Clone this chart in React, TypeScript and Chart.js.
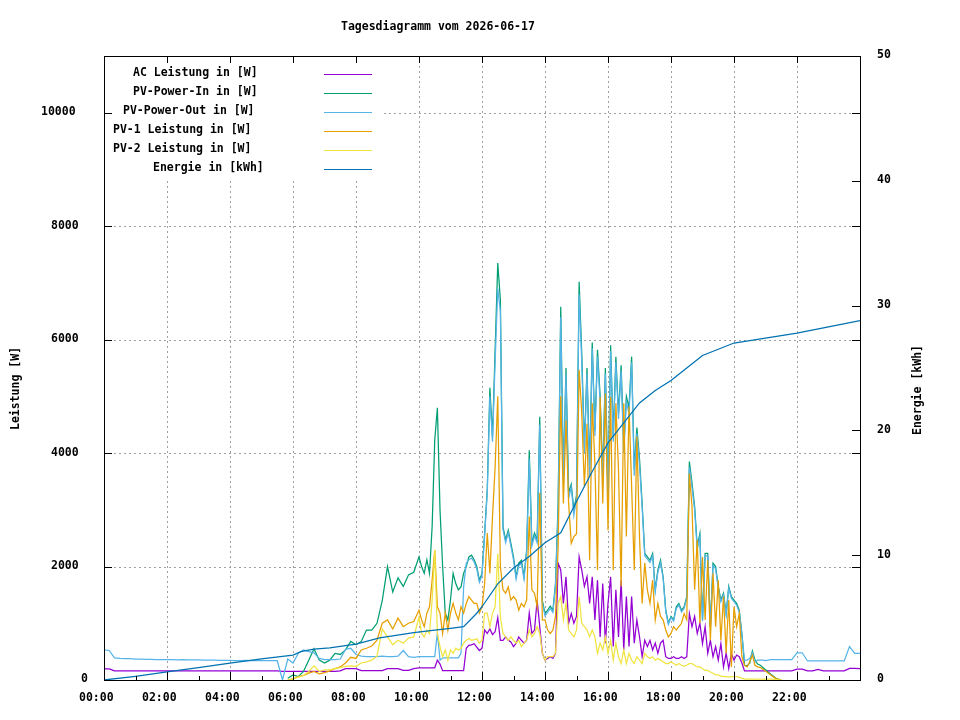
import React, { useEffect, useRef } from "react";
import { Chart, registerables } from "chart.js";

Chart.register(...registerables);

const TITLE = "Tagesdiagramm vom 2026-06-17";
const Y_TITLE = "Leistung [W]";
const Y2_TITLE = "Energie [kWh]";
const LABELS = [
  "AC Leistung in [W]",
  "PV-Power-In in [W]",
  "PV-Power-Out in [W]",
  "PV-1 Leistung in [W]",
  "PV-2 Leistung in [W]",
  "Energie in [kWh]",
];
const COLORS = ["#9400d3", "#009e73", "#56b4e9", "#e69f00", "#f0e442", "#0072b2"];
const Y_TICKS = [0, 2000, 4000, 6000, 8000, 10000];
const Y2_TICKS = [0, 10, 20, 30, 40, 50];
const X_TICKS = [0, 120, 240, 360, 480, 600, 720, 840, 960, 1080, 1200, 1320];
const X_TICK_LABELS = ["00:00", "02:00", "04:00", "06:00", "08:00", "10:00", "12:00", "14:00", "16:00", "18:00", "20:00", "22:00"];

// time of day in minutes
const T = [
  0, 10, 20, 30, 40, 50, 60, 70, 80, 90, 100, 110, 120, 130, 140, 150, 160, 170, 180, 190, 200, 210, 220, 230,
  240, 250, 260, 270, 280, 290, 300, 310, 320, 330, 340, 350, 360, 370, 380, 390, 400, 410, 420, 430, 440, 450,
  460, 470, 480, 490, 500, 510, 520, 530, 540, 550, 560, 570, 580, 590,
  600, 605, 610, 615, 620, 625, 630, 635, 640, 645, 650, 655,
  660, 665, 670, 675, 680, 685, 690, 695, 700, 705, 710, 715,
  720, 725, 730, 735, 740, 745, 750, 755, 760, 765, 770, 775,
  780, 785, 790, 795, 800, 805, 810, 815, 820, 825, 830, 835,
  840, 845, 850, 855, 860, 865, 870, 875, 880, 885, 890, 895,
  900, 905, 910, 915, 920, 925, 930, 935, 940, 945, 950, 955,
  960, 965, 970, 975, 980, 985, 990, 995, 1000, 1005, 1010, 1015,
  1020, 1025, 1030, 1035, 1040, 1045, 1050, 1055, 1060, 1065, 1070, 1075,
  1080, 1085, 1090, 1095, 1100, 1105, 1110, 1115, 1120, 1125, 1130, 1135,
  1140, 1145, 1150, 1155, 1160, 1165, 1170, 1175, 1180, 1185, 1190, 1195,
  1200, 1205, 1210, 1215, 1220, 1225, 1230, 1235, 1240, 1245, 1250, 1255,
  1260,
  1270, 1280, 1290, 1300, 1310, 1320, 1330, 1340, 1350, 1360, 1370, 1380, 1390, 1400, 1410, 1420, 1430, 1440,
];

const AC = [
  195, 195, 160, 160, 160, 160,
  160, 160, 160, 160, 160, 160,
  160, 160, 160, 160, 160, 160,
  160, 160, 160, 160, 160, 160,
  160, 160, 160, 160, 160, 160,
  160, 160, 160, 160, 150, 150,
  150, 150, 150, 150, 150, 150,
  150, 150, 150, 160, 200, 200,
  200, 165, 165, 165, 165, 165,
  200, 200, 200, 170, 170, 200,
  215, 215, 215, 215, 215, 215, 215, 350, 280, 165, 165, 165,
  165, 165, 165, 165, 165, 165, 560, 610, 620, 640, 580, 520,
  560, 880, 820, 900, 800, 850, 1100, 700, 700, 760, 700, 670,
  590, 650, 760, 700, 650, 700, 1180, 820, 880, 1410, 940, 470,
  350, 380, 410, 380, 470, 2060, 1940, 1350, 1820, 1000, 1170, 1000,
  1120, 2170, 1940, 1650, 1820, 1350, 1820, 1060, 1760, 760, 1700, 650,
  1350, 1820, 590, 1590, 760, 1760, 530, 1470, 590, 1470, 650, 1060,
  760, 410, 700, 590, 700, 530, 650, 470, 650, 700, 410, 380,
  380, 410, 380, 380, 410, 380, 410, 1170, 940, 1120, 820, 1000,
  640, 940, 470, 700, 410, 590, 350, 640, 230, 470, 200, 470,
  350, 440, 410, 300, 160, 160, 160, 160, 160, 160, 160, 160,
  160,
  160, 160, 160, 160, 160, 190, 190, 160, 160, 185, 160, 160, 160, 160, 160, 205, 205, 200,
];

const PV_IN = [
  null, null, null, null, null, null,
  null, null, null, null, null, null,
  null, null, null, null, null, null,
  null, null, null, null, null, null,
  null, null, null, null, null, null,
  null, null, null, null, null, 30,
  90, 60, 150, 350, 550, 350,
  300, 350, 470, 450, 530, 680,
  620, 680, 880, 880, 1000, 1400,
  2000, 1550, 1800, 1650, 1850, 1900,
  2170, 2000, 1880, 2120, 1880, 2700, 4230, 4800, 3000, 2000, 1180, 1060,
  1410, 1880, 1700, 1590, 1640, 1880, 2000, 2170, 2200, 2120, 2000, 1760,
  1880, 2590, 3350, 5150, 4290, 5820, 7350, 6700, 2700, 2470, 2640, 2410,
  2170, 1820, 2060, 2110, 1820, 2290, 4050, 2410, 2590, 2470, 4640, 1400,
  1170, 1230, 1300, 1230, 1700, 3110, 6580, 3600, 5500, 3300, 3450, 3000,
  3250, 7020, 5760, 4100, 5500, 3700, 5950, 4400, 5820, 5000, 3600, 5500,
  3250, 5900, 4300, 5700, 4700, 5550, 4100, 5000, 4800, 5700, 3700, 4450,
  3900, 3110, 2230, 2170, 2110, 2230, 1590, 1940, 2110, 1820, 1230, 1000,
  1120, 1060, 1290, 1350, 1230, 1290, 1470, 3850, 3470, 3060, 2350, 2580,
  1060, 2230, 2230, 940, 2060, 2000, 1650, 1410, 1530, 1170, 1650, 1470,
  1410, 1350, 1230, 820, 260, 250, 300, 510, 350, 280, 260, 220,
  180,
  100, 30, 0, null, null, null, null, null, null, null, null, null, null, null, null, null, null, null,
];

const PV_OUT = [
  530, 520, 390, 380, 375, 375,
  370, 370, 365, 365, 360, 360,
  360, 360, 355, 360, 355, 355,
  355, 350, 350, 350, 345, 345,
  345, 340, 340, 345, 340, 340,
  340, 340, 340, 340, 0, 370,
  300, 470, 530, 500, 480, 380,
  360, 360, 360, 370, 540, 560,
  450, 420, 410, 410, 410, 420,
  410, 410, 420, 520, 410, 400,
  411, 411, 411, 411, 411, 411, 411, 830, 350, 390, 390, 390,
  390, 390, 390, 390, 470, 1640, 2060, 2120, 2150, 2080, 1960, 1720,
  1840, 2550, 3300, 5000, 4200, 5600, 6900, 6500, 2650, 2420, 2600, 2360,
  2120, 1780, 2010, 2060, 1780, 2240, 3900, 2360, 2540, 2420, 4500, 1360,
  1130, 1190, 1260, 1190, 1650, 3000, 6400, 3500, 5400, 3200, 3400, 2900,
  3200, 6800, 5600, 4000, 5400, 3600, 5850, 4300, 5700, 4900, 3500, 5400,
  3200, 5800, 4200, 5600, 4600, 5450, 4000, 4900, 4700, 5600, 3600, 4350,
  3800, 3050, 2190, 2130, 2070, 2190, 1560, 1900, 2070, 1790, 1200, 980,
  1100, 1040, 1260, 1320, 1200, 1260, 1440, 3750, 3400, 3000, 2300, 2530,
  1040, 2190, 2190, 920, 2020, 1960, 1620, 1380, 1500, 1150, 1620, 1440,
  1380, 1320, 1200, 800, 350, 350, 380, 480, 320, 350, 350, 350,
  340,
  360, 360, 360, 360, 360, 480, 480, 335, 335, 335, 335, 335, 335, 335, 335, 590, 470, 470,
];

const PV1 = [
  null, null, null, null, null, null,
  null, null, null, null, null, null,
  null, null, null, null, null, null,
  null, null, null, null, null, null,
  null, null, null, null, null, null,
  null, null, null, null, null, 0,
  20, 60, 80, 120, 150, 110,
  130, 160, 200, 230, 300, 400,
  380, 530, 560, 600, 700, 1000,
  1060, 900, 1090, 940, 1000, 1030,
  1230, 1060, 940, 1180, 1290, 1760, 2290, 1290, 1180, 820, 1180, 880,
  1180, 1350, 1180, 1060, 1290, 1180, 1350, 1470, 1410, 1350, 1350, 1180,
  1290, 1700, 2590, 1880, 2880, 3760, 5000, 2000, 1590, 1530, 1640, 1410,
  1470, 1410, 1230, 1350, 1290, 1410, 2880, 1590, 1530, 1290, 3300, 1060,
  1060, 880, 820, 880, 1120, 2350, 5000, 3110, 4580, 3110, 2410, 2530,
  2580, 5470, 4700, 3410, 4520, 2110, 4880, 3820, 1940, 4990, 3110, 5050,
  2640, 4990, 1940, 4880, 3700, 1650, 4880, 2530, 4820, 3410, 1940, 4290,
  2530, 1350, 2060, 1590, 1350, 1760, 1060, 1350, 1120, 1060, 880, 760,
  820, 940, 880, 940, 1000, 1170, 1060, 3640, 3060, 1590, 2470, 1000,
  2170, 1060, 2110, 700, 1880, 940, 1760, 700, 1470, 470, 1410, 230,
  1290, 940, 1170, 410, 260, 230, 320, 440, 260, 230, 220, 190,
  160,
  90, 25, 0, null, null, null, null, null, null, null, null, null, null, null, null, null, null, null,
];

const PV2 = [
  null, null, null, null, null, null,
  null, null, null, null, null, null,
  null, null, null, null, null, null,
  null, null, null, null, null, null,
  null, null, null, null, null, null,
  null, null, null, null, null, 0,
  20, 50, 80, 150, 250, 150,
  180, 180, 200, 220, 240, 250,
  240, 300, 320, 350, 420, 900,
  760, 620, 700, 650, 740, 760,
  1110, 820, 760, 880, 820, 1410, 2290, 820, 590, 410, 530, 350,
  530, 470, 560, 530, 560, 650, 700, 730, 700, 710, 730, 650,
  700, 1180, 1180, 940, 1180, 1290, 2230, 1110, 820, 760, 700, 760,
  700, 650, 700, 590, 650, 700, 880, 760, 820, 940, 820, 470,
  350, 410, 410, 410, 470, 1350, 1470, 1060, 1350, 880, 820, 760,
  880, 1470, 1000, 940, 880, 760, 880, 760, 470, 650, 530, 760,
  470, 700, 350, 650, 410, 290, 530, 290, 470, 350, 290, 410,
  350, 290, 470, 410, 380, 410, 350, 380, 350, 320, 290, 290,
  320, 290, 260, 290, 260, 240, 260, 290, 290, 260, 230, 230,
  200, 170, 170, 140, 120, 90, 90, 70, 60, 60, 50, 60,
  60, 60, 50, 30, 15, 15, 15, 15, 15, 15, 15, 15,
  15,
  15, 10, 0, null, null, null, null, null, null, null, null, null, null, null, null, null, null, null,
];

// energy: own time grid (minutes) and values (kWh)
const TE = [
  0, 60, 120, 180, 240, 300, 360, 375, 400, 430, 480, 525, 590, 630, 660, 685, 710, 720, 750, 780, 810, 840,
  870, 900, 930, 960, 990, 1020, 1050, 1080, 1110, 1140, 1170, 1200, 1230, 1260, 1320, 1380, 1440,
];
const ENERGY = [
  0, 0.3, 0.65, 1.0, 1.35, 1.7, 2.0, 2.27, 2.48, 2.58, 2.88, 3.37, 3.8, 4.0, 4.14, 4.27, 5.35, 5.87, 7.7, 8.97,
  9.9, 11.0, 11.8, 14.3, 16.7, 19.0, 20.6, 22.2, 23.2, 24.0, 25.0, 26.0, 26.5, 27.0, 27.2, 27.4, 27.8, 28.3, 28.8,
];

const FONT = 'bold 11.5px "DejaVu Sans Mono", "Liberation Mono", monospace';

const decor = {
  id: "decor",
  beforeDatasetsDraw(chart: any) {
    const { ctx, chartArea: a, scales } = chart;
    ctx.save();
    ctx.strokeStyle = "#a0a0a0";
    ctx.lineWidth = 1;
    ctx.setLineDash([2, 3]);
    ctx.beginPath();
    for (const v of Y_TICKS) {
      if (v === 0) continue;
      const y = Math.round(scales.y.getPixelForValue(v)) + 0.5;
      ctx.moveTo(a.left, y);
      ctx.lineTo(a.right, y);
    }
    for (const m of X_TICKS) {
      if (m === 0) continue;
      const x = Math.round(scales.x.getPixelForValue(m)) + 0.5;
      ctx.moveTo(x, a.top);
      ctx.lineTo(x, a.bottom);
    }
    ctx.stroke();
    ctx.restore();
  },
  afterDatasetsDraw(chart: any) {
    const { ctx, chartArea: a, scales } = chart;
    ctx.save();
    // key box (opaque)
    ctx.fillStyle = "#ffffff";
    ctx.fillRect(a.left + 1, a.top + 1, 277, 121);
    ctx.font = FONT;
    ctx.textBaseline = "middle";
    ctx.textAlign = "left";
    LABELS.forEach((lab, i) => {
      const yt = 73 + 19 * i;
      ctx.fillStyle = "#000";
      ctx.fillText(lab, 313 - 10 * lab.length, yt);
      ctx.strokeStyle = COLORS[i];
      ctx.lineWidth = 1;
      ctx.beginPath();
      ctx.moveTo(324, yt + 1.5);
      ctx.lineTo(372, yt + 1.5);
      ctx.stroke();
    });

    // border
    ctx.strokeStyle = "#000";
    ctx.lineWidth = 1;
    ctx.strokeRect(a.left + 0.5, a.top + 0.5, a.right - a.left, a.bottom - a.top);

    // tick marks
    ctx.beginPath();
    for (const v of Y_TICKS) {
      const y = Math.round(scales.y.getPixelForValue(v)) + 0.5;
      ctx.moveTo(a.left, y);
      ctx.lineTo(a.left + 8, y);
      ctx.moveTo(a.right, y);
      ctx.lineTo(a.right - 8, y);
    }
    for (const v of Y2_TICKS) {
      const y = Math.round(scales.y2.getPixelForValue(v)) + 0.5;
      ctx.moveTo(a.right, y);
      ctx.lineTo(a.right - 8, y);
    }
    for (const m of X_TICKS) {
      const x = Math.round(scales.x.getPixelForValue(m)) + 0.5;
      ctx.moveTo(x, a.bottom);
      ctx.lineTo(x, a.bottom - 8);
      ctx.moveTo(x, a.top);
      ctx.lineTo(x, a.top + 7);
      const xm = Math.round(scales.x.getPixelForValue(m + 60)) + 0.5;
      ctx.moveTo(xm, a.bottom);
      ctx.lineTo(xm, a.bottom - 4);
    }
    ctx.stroke();

    // tick labels
    ctx.fillStyle = "#000";
    ctx.font = FONT;
    ctx.textBaseline = "middle";
    ctx.textAlign = "left";
    for (const v of Y_TICKS) {
      const s = String(v);
      const y = scales.y.getPixelForValue(v) - 0.5;
      ctx.fillText(s, 91 - 10 * s.length, y);
    }
    for (const v of Y2_TICKS) {
      const y = scales.y2.getPixelForValue(v) - 0.5;
      ctx.fillText(String(v), a.right + 17, y);
    }
    X_TICKS.forEach((m, i) => {
      const x = scales.x.getPixelForValue(m);
      ctx.fillText(X_TICK_LABELS[i], x - 25, a.bottom + 18);
    });

    // title
    ctx.fillText(TITLE, 341, 27);

    // axis titles
    ctx.save();
    ctx.translate(16, 430);
    ctx.rotate(-Math.PI / 2);
    ctx.fillText(Y_TITLE, 0, 0);
    ctx.restore();
    ctx.save();
    ctx.translate(918, 435);
    ctx.rotate(-Math.PI / 2);
    ctx.fillText(Y2_TITLE, 0, 0);
    ctx.restore();

    ctx.restore();
  },
};

export default function App() {
  const ref = useRef<HTMLCanvasElement | null>(null);

  useEffect(() => {
    if (!ref.current) return;
    const pts = (ts: number[], vs: (number | null)[]) => ts.map((x, i) => ({ x, y: vs[i] }));
    const ds = (i: number, data: any[], order: number, axis = "y") => ({
      label: LABELS[i],
      data,
      borderColor: COLORS[i],
      backgroundColor: COLORS[i],
      borderWidth: 1.25,
      pointRadius: 0,
      pointHoverRadius: 0,
      fill: false,
      tension: 0,
      spanGaps: false,
      order,
      yAxisID: axis,
    });
    const hidden = {
      grid: { display: false, drawTicks: false },
      border: { display: false },
      ticks: { display: false },
    };
    const chart = new Chart(ref.current, {
      type: "line",
      data: {
        datasets: [
          ds(0, pts(T, AC), 5),
          ds(1, pts(T, PV_IN), 4),
          ds(2, pts(T, PV_OUT), 3),
          ds(3, pts(T, PV1), 2),
          ds(4, pts(T, PV2), 1),
          ds(5, pts(TE, ENERGY), 0, "y2"),
        ],
      },
      options: {
        responsive: false,
        animation: false,
        events: [],
        layout: { padding: { top: 56, left: 0, right: 0, bottom: 0 } },
        plugins: {
          legend: { display: false },
          tooltip: { enabled: false },
          title: { display: false },
        },
        scales: {
          x: {
            type: "linear",
            min: 0,
            max: 1440,
            ...hidden,
            afterFit: (s: any) => {
              s.height = 40;
            },
          },
          y: {
            type: "linear",
            position: "left",
            min: 0,
            max: 11000,
            ...hidden,
            afterFit: (s: any) => {
              s.width = 104;
            },
          },
          y2: {
            type: "linear",
            position: "right",
            min: 0,
            max: 50,
            ...hidden,
            afterFit: (s: any) => {
              s.width = 100;
            },
          },
        },
      } as any,
      plugins: [decor],
    });
    return () => chart.destroy();
  }, []);

  return (
    <div style={{ position: "absolute", left: 0, top: 0, width: 960, height: 720, background: "#fff" }}>
      <canvas ref={ref} width={960} height={720} style={{ display: "block", width: 960, height: 720 }} />
    </div>
  );
}
